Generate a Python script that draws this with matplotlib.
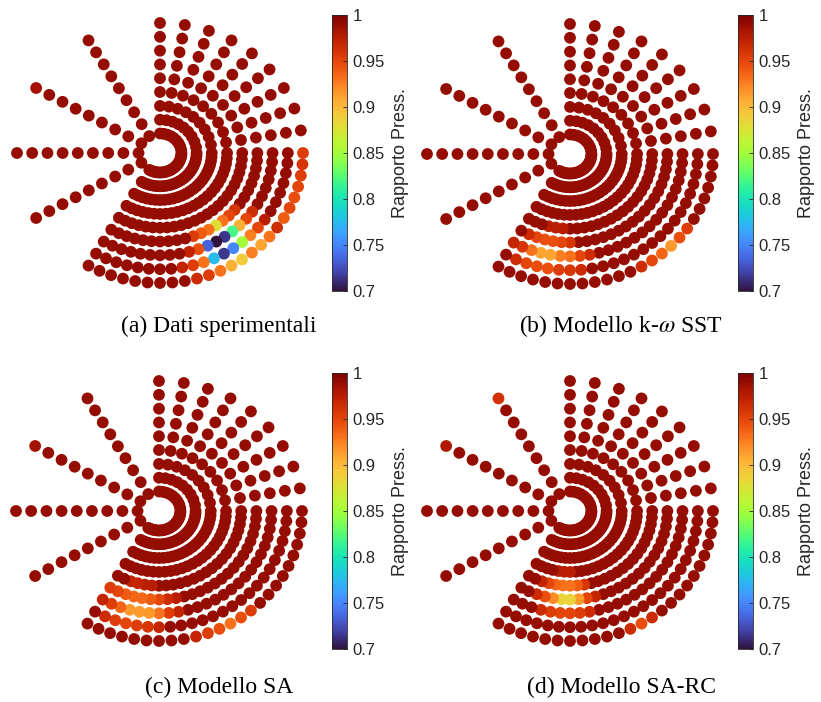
import numpy as np
import matplotlib.pyplot as plt

# posizione prese: raggio adimensionale e angolo (gradi)
radii = [0.15, 0.256, 0.362, 0.469, 0.575, 0.681, 0.787, 0.894, 1.0]
ray_angles = [90, 80, 70, 60, 50, 40, 30, 20, 10, 0, 120, 150, 180, 210]
arc_angles = [-5, -10, -15, -20, -25, -30, -35, -40, -45, -50, -55, -60,
              -65, -70, -75, -80, -85, -90, -95, -100, -105, -110, -115, -120]
p_base = 0.99

# (a) dati sperimentali: anello, angolo, rapporto di pressione
a_ring = [9, 9, 9, 9, 9, 9, 9, 9, 9, 9, 9, 9, 9, 9, 9, 9, 9,
          8, 8, 8, 8, 8, 8, 8, 8, 8, 8,
          7, 7, 7, 7, 7, 7, 7, 7, 7,
          6, 6, 6, 6, 6, 6, 6]
a_ang = [0, -5, -10, -15, -20, -25, -30, -35, -40, -45, -50, -55, -60, -65, -70, -75, 150,
         -35, -40, -45, -50, -55, -60, -65, -70, -75, -80,
         -35, -40, -45, -50, -55, -60, -65, -70, -75,
         -40, -45, -50, -55, -60, -65, -70]
a_val = [0.955, 0.96, 0.955, 0.95, 0.945, 0.95, 0.94, 0.965, 0.93, 0.91, 0.925, 0.89, 0.905, 0.93, 0.955, 0.965, 0.984,
         0.975, 0.95, 0.925, 0.85, 0.75, 0.715, 0.775, 0.93, 0.955, 0.97,
         0.965, 0.95, 0.905, 0.82, 0.715, 0.70, 0.735, 0.945, 0.97,
         0.96, 0.95, 0.93, 0.88, 0.93, 0.94, 0.955]

# (b) modello k-omega SST
b_ring = [5, 5, 5,
          6, 6, 6, 6, 6, 6,
          7, 7, 7, 7, 7, 7, 7, 7, 7,
          8, 8, 8, 8, 8, 8, 8,
          9, 9, 9, 9, 9, 9]
b_ang = [-95, -100, -105,
         -90, -95, -100, -105, -110, -115,
         -80, -85, -90, -95, -100, -105, -110, -115, -120,
         -85, -90, -95, -100, -105, -110, -115,
         -35, -40, -45, -50, -55, -60]
b_val = [0.975, 0.975, 0.975,
         0.96, 0.95, 0.945, 0.945, 0.95, 0.965,
         0.965, 0.95, 0.93, 0.925, 0.91, 0.91, 0.93, 0.96, 0.97,
         0.965, 0.96, 0.955, 0.945, 0.945, 0.95, 0.965,
         0.955, 0.945, 0.915, 0.935, 0.95, 0.965]

# (c) modello SA
c_ring = [5, 5, 5, 5,
          6, 6, 6, 6, 6, 6, 6, 6, 6,
          7, 7, 7, 7, 7, 7, 7, 7, 7,
          8, 8, 8, 8, 8, 8,
          9, 9, 9, 9, 9, 9, 9]
c_ang = [-95, -100, -105, -110,
         -80, -85, -90, -95, -100, -105, -110, -115, -120,
         -80, -85, -90, -95, -100, -105, -110, -115, -120,
         -90, -95, -100, -105, -110, -115,
         -50, -55, -60, -65, -70, -75, 150]
c_val = [0.975, 0.975, 0.97, 0.97,
         0.975, 0.965, 0.95, 0.94, 0.935, 0.935, 0.94, 0.95, 0.955,
         0.97, 0.955, 0.93, 0.915, 0.915, 0.915, 0.935, 0.955, 0.97,
         0.97, 0.96, 0.955, 0.95, 0.955, 0.965,
         0.955, 0.945, 0.93, 0.945, 0.955, 0.97, 0.984]

# (d) modello SA-RC
d_ring = [4, 4, 4,
          5, 5, 5, 5, 5, 5, 5,
          6, 6, 6, 6, 6, 6, 6, 6,
          7, 7, 7, 7, 7, 7,
          9, 9, 9, 9, 9]
d_ang = [-90, -95, -100,
         -80, -85, -90, -95, -100, -105, -110,
         -75, -80, -85, -90, -95, -100, -105, -110,
         -80, -85, -90, -95, -100, -105,
         -55, -60, -65, 120, 150]
d_val = [0.975, 0.975, 0.975,
         0.96, 0.94, 0.93, 0.93, 0.935, 0.95, 0.97,
         0.97, 0.95, 0.915, 0.885, 0.885, 0.92, 0.945, 0.965,
         0.965, 0.955, 0.95, 0.95, 0.955, 0.965,
         0.965, 0.945, 0.965, 0.962, 0.98]

captions = ['(a) Dati sperimentali', r'(b) Modello k-$\omega$ SST',
            '(c) Modello SA', '(d) Modello SA-RC']


def taps(rings, angs, vals):
    ang = np.array(ray_angles + arc_angles, dtype=float)
    x, y, v = [], [], []
    for k, r in enumerate(radii):
        for a in ang:
            val = p_base
            for rr, aa, vv in zip(rings, angs, vals):
                if rr == k + 1 and aa == a:
                    val = vv
            x.append(r * np.cos(np.radians(a)))
            y.append(r * np.sin(np.radians(a)))
            v.append(val)
    return np.array(x), np.array(y), np.array(v)


W, H = 821, 702
plt.rcParams['mathtext.fontset'] = 'stix'
fig = plt.figure(figsize=(W / 100, H / 100), dpi=100)

sx, sy, lim = 143, 130, 1.1
centers = [(160, 153), (570, 154), (159, 511), (570, 511)]
cbars = [(332, 15), (738, 15), (332, 373), (738, 373)]
caps = [(219, 326), (621, 326), (219, 687), (621, 687)]
data = [(a_ring, a_ang, a_val), (b_ring, b_ang, b_val),
        (c_ring, c_ang, c_val), (d_ring, d_ang, d_val)]

for i in range(4):
    cx, cy = centers[i]
    ax = fig.add_axes([(cx - lim * sx) / W, (H - cy - lim * sy) / H,
                       2 * lim * sx / W, 2 * lim * sy / H])
    x, y, v = taps(*data[i])
    sc = ax.scatter(x, y, c=v, cmap='turbo', vmin=0.7, vmax=1.0, s=72,
                    linewidths=0)
    ax.set_xlim(-lim, lim)
    ax.set_ylim(-lim, lim)
    ax.axis('off')

    bx, by = cbars[i]
    cax = fig.add_axes([bx / W, (H - by - 276) / H, 15 / W, 276 / H])
    cb = fig.colorbar(sc, cax=cax)
    cb.set_ticks([0.7, 0.75, 0.8, 0.85, 0.9, 0.95, 1.0])
    cb.set_ticklabels(['0.7', '0.75', '0.8', '0.85', '0.9', '0.95', '1'])
    cb.outline.set_edgecolor('#262626')
    cb.outline.set_linewidth(0.6)
    cax.tick_params(direction='in', length=3, width=0.6, colors='#262626',
                    labelsize=12, pad=4)
    for t in cax.get_yticklabels():
        t.set_fontfamily('Liberation Sans')
    fig.text((bx + 68) / W, 1 - (by + 138) / H, 'Rapporto Press.',
             rotation=90, ha='center', va='center', fontsize=13,
             color='#262626', family='Liberation Sans')

    fig.text(caps[i][0] / W, 1 - caps[i][1] / H, captions[i],
             ha='center', va='center', fontsize=17, family='Liberation Serif')

fig.savefig('out.png', dpi=100)
